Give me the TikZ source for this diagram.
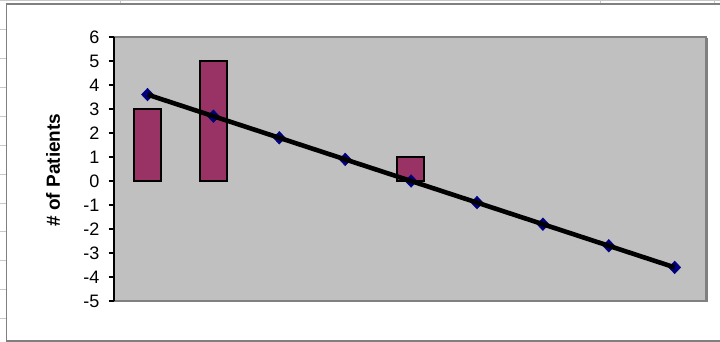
\documentclass[tikz,border=0pt]{standalone}
\usepackage{fontspec}
\setmainfont{Liberation Sans}
\usetikzlibrary{calc}
\definecolor{plotbg}{HTML}{C0C0C0}
\definecolor{plotedge}{HTML}{808080}
\definecolor{barfill}{HTML}{993366}
\definecolor{marknavy}{HTML}{000080}
\definecolor{gridlt}{HTML}{C8C8C8}
\tikzset{
  ticklab/.style={anchor=east,inner sep=0pt,font=\fontsize{18}{18}\selectfont},
  barbox/.style={draw=black,line width=1.6pt,fill=barfill},
  diam/.style={fill=marknavy,draw=marknavy,line width=0.5pt},
  trend/.style={line width=4.6pt,black},
  sheetline/.style={draw=gridlt,line width=1pt},
}
\begin{document}
\begin{tikzpicture}[x=1pt,y=-1pt]
\useasboundingbox (0,0) rectangle (720,342);
\fill[white] (0,0) rectangle (720,342);
% spreadsheet grid remnants
\draw[sheetline] (0,0.8) -- (720,0.8);
\foreach \gx in {120,600,714} \draw[sheetline] (\gx,0) -- (\gx,3.5);
\foreach \k in {0,...,10} \draw[sheetline] (0,{30+28.85*\k}) -- (6,{30+28.85*\k});
% chart frame
\draw[plotedge,line width=1.6pt] (6.5,342) -- (6.5,3.8) -- (720,3.8);
\draw[plotedge,line width=1.4pt] (6.5,340.8) -- (720,340.8);
% plot area
\fill[plotbg] (114,37) rectangle (707,301);
\draw[plotedge,line width=2pt] (114,37) rectangle (706,301);
\draw[plotedge,line width=1pt] (707.5,38) -- (707.5,302);
% axis and ticks
\draw[black,line width=1.5pt] (114,37) -- (114,301);
\foreach \v in {-5,...,6} {
  \draw[black,line width=1.2pt] (108.5,{181-24*\v}) -- (114,{181-24*\v});
  \node[ticklab] (t\v) at (99.5,{181-24*\v}) {\v};
}
% bars
\draw[barbox] (134,181) rectangle (161,109);
\draw[barbox] (200,181) rectangle (227,61);
\draw[barbox] (397,181) rectangle (424,157);
% trend points
\foreach \i/\xv/\yv in {1/147.5/3.6,2/213.4/2.7,3/279.3/1.8,4/345.2/0.9,5/411.1/0,6/477/-0.9,7/542.9/-1.8,8/608.8/-2.7,9/674.7/-3.6}
  \coordinate (m\i) at (\xv,{181-24*\yv});
\foreach \i in {1,...,9}
  \fill[diam] ($(m\i)+(-6,0)$) -- ($(m\i)+(0,-6.3)$) -- ($(m\i)+(6,0)$) -- ($(m\i)+(0,6.3)$) -- cycle;
\draw[trend] (m1) -- (m2) -- (m3) -- (m4) -- (m5) -- (m6) -- (m7) -- (m8) -- (m9);
% axis title
\node[rotate=90,inner sep=0pt,font=\fontsize{19}{19}\selectfont\bfseries] (ytitle) at (53,170) {\# of Patients};
\end{tikzpicture}
\end{document}
